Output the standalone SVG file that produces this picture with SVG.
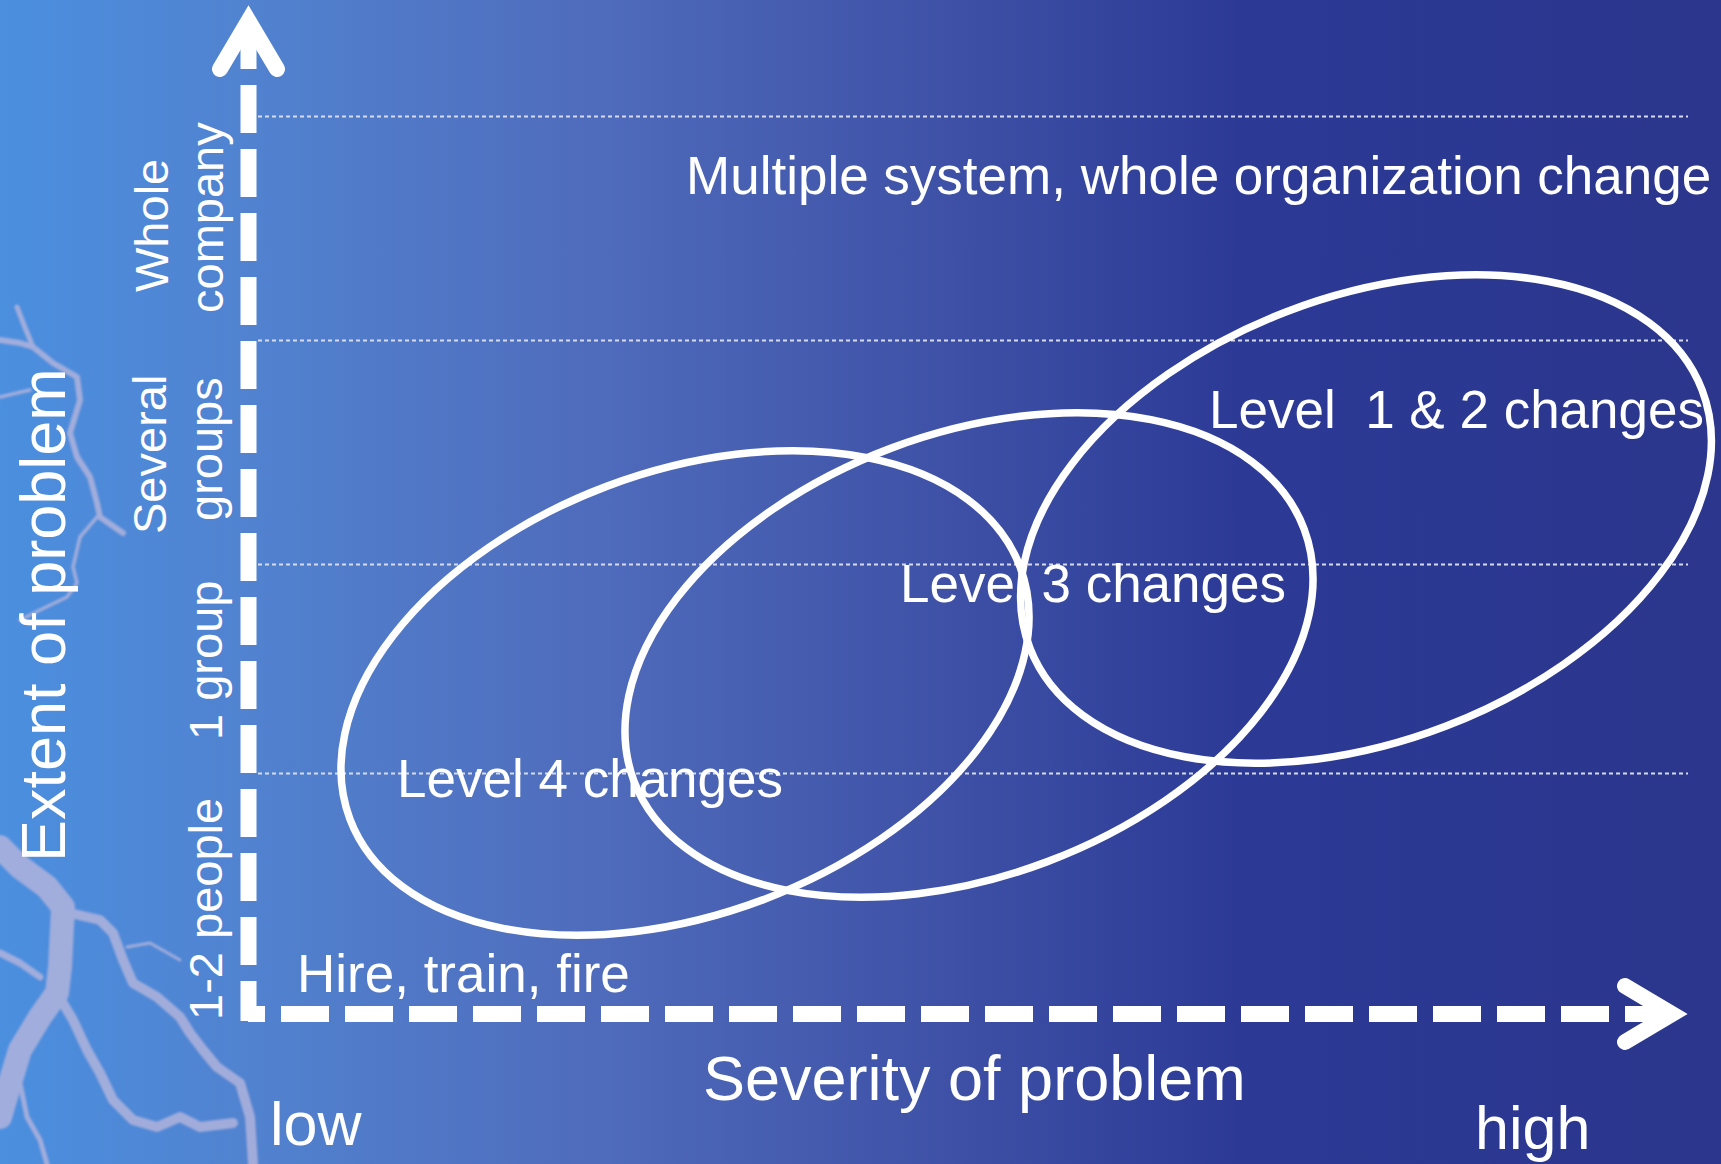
<svg xmlns="http://www.w3.org/2000/svg" width="1721" height="1164" viewBox="0 0 1721 1164">
<defs>
<linearGradient id="bg" x1="0" y1="0" x2="1" y2="0">
<stop offset="0" stop-color="#4b8fdf"/>
<stop offset="0.15" stop-color="#5182cf"/>
<stop offset="0.35" stop-color="#4f6bbb"/>
<stop offset="0.55" stop-color="#3e51a6"/>
<stop offset="0.72" stop-color="#2c3a96"/>
<stop offset="1" stop-color="#2b368c"/>
</linearGradient>
<filter id="soft" x="-10%" y="-10%" width="120%" height="120%">
<feGaussianBlur stdDeviation="1.2"/>
</filter>
<style>
.t{font-family:"Liberation Sans",Arial,sans-serif;fill:#ffffff;}
.grid{stroke:#d6dbef;stroke-width:2;stroke-dasharray:4 3;fill:none;}
.axis{stroke:#ffffff;stroke-width:16;fill:none;stroke-dasharray:48 16;}
.head{stroke:#ffffff;stroke-width:16;fill:none;stroke-linecap:round;stroke-linejoin:miter;stroke-miterlimit:10;}
.ell{stroke:#ffffff;stroke-width:7.5;fill:none;}
.bolt{stroke:#abb1dc;fill:none;stroke-linecap:round;stroke-linejoin:round;}
</style>
</defs>
<rect x="0" y="0" width="1721" height="1164" fill="url(#bg)"/>
<g id="lightning" filter="url(#soft)" opacity="0.9">
<path class="bolt" stroke-width="6" d="M0,340 L20,343 L33,347 L53,363 L77,377 L80,400 L70,433 L77,457 L90,477 L97,503 L100,517 L123,533"/>
<path class="bolt" stroke-width="5" d="M17,307 L24,325 L33,347"/>
<path class="bolt" stroke-width="3.5" d="M97,517 L80,537 L73,567 L77,583 L67,597 L40,610 L20,620"/>
<path class="bolt" stroke-width="3.5" d="M0,397 L17,393 L30,390"/>
<path class="bolt" stroke-width="24" d="M0,847 L20,867 L47,887 L63,907 L60,967 L57,993 L40,1017 L20,1050 L10,1083 L0,1117"/>
<path class="bolt" stroke-width="7" d="M0,953 L20,963 L40,977"/>
<path class="bolt" stroke-width="10" d="M63,907 L70,913 L100,920 L113,933 L123,960 L133,983 L157,997 L180,1017 L190,1033 L203,1050 L217,1067 L240,1083 L250,1117 L253,1164"/>
<path class="bolt" stroke-width="10" d="M57,993 L73,1020 L87,1050 L100,1073 L113,1100 L133,1120 L157,1127 L180,1117 L200,1127 L233,1123"/>
<path class="bolt" stroke-width="5" d="M20,1083 L27,1117 L40,1140 L47,1164"/>
<path class="bolt" stroke-width="3" d="M127,947 L150,943 L180,960"/>
</g>
<g id="gridlines">
<line class="grid" x1="258" y1="116.5" x2="1688" y2="116.5"/>
<line class="grid" x1="258" y1="340.5" x2="1688" y2="340.5"/>
<line class="grid" x1="258" y1="564.5" x2="1688" y2="564.5"/>
<line class="grid" x1="258" y1="773.5" x2="1688" y2="773.5"/>
</g>
<g id="connectors">
<path class="axis" d="M248.5,21 L248.5,1021"/>
<path class="axis" d="M248,1014 L1673,1014" stroke-dashoffset="31"/>
<polyline class="head" points="220,69 248.5,21 277,69"/>
<polyline class="head" points="1625,986 1672,1014 1625,1042"/>
</g>
<g id="axis-labels">
<text class="t" font-size="63" transform="translate(65,862) rotate(-90)">Extent of problem</text>
<text class="t" font-size="63" x="703" y="1100">Severity of problem</text>
<text class="t" font-size="61" x="270" y="1145">low</text>
<text class="t" font-size="61" x="1475" y="1149">high</text>
</g>
<g id="extent-labels">
<text class="t" font-size="47" transform="translate(168,292) rotate(-90)">Whole</text>
<text class="t" font-size="47" transform="translate(223,313) rotate(-90)">company</text>
<text class="t" font-size="47" transform="translate(166,534) rotate(-90)">Several</text>
<text class="t" font-size="47" transform="translate(222,521) rotate(-90)">groups</text>
<text class="t" font-size="47" transform="translate(222,740) rotate(-90)">1 group</text>
<text class="t" font-size="47" transform="translate(222,1020) rotate(-90)">1-2 people</text>
</g>
<g id="level4">
<ellipse class="ell" cx="685" cy="693" rx="358" ry="221" transform="rotate(-20.6 685 693)"/>
<text class="t" font-size="53" x="397" y="797">Level 4 changes</text>
</g>
<g id="level3">
<ellipse class="ell" cx="969" cy="655" rx="358" ry="221" transform="rotate(-20.6 969 655)"/>
<text class="t" font-size="53" x="900" y="602">Level 3 changes</text>
</g>
<g id="level12">
<ellipse class="ell" cx="1366" cy="519" rx="360" ry="222" transform="rotate(-21 1366 519)"/>
<text class="t" font-size="53" x="1209" y="428" xml:space="preserve">Level  1 &amp; 2 changes</text>
</g>
<g id="hire">
<text class="t" font-size="53" x="297" y="992">Hire, train, fire</text>
</g>
<g id="multiple">
<text class="t" font-size="53" x="686" y="194">Multiple system, whole organization change</text>
</g>
</svg>
